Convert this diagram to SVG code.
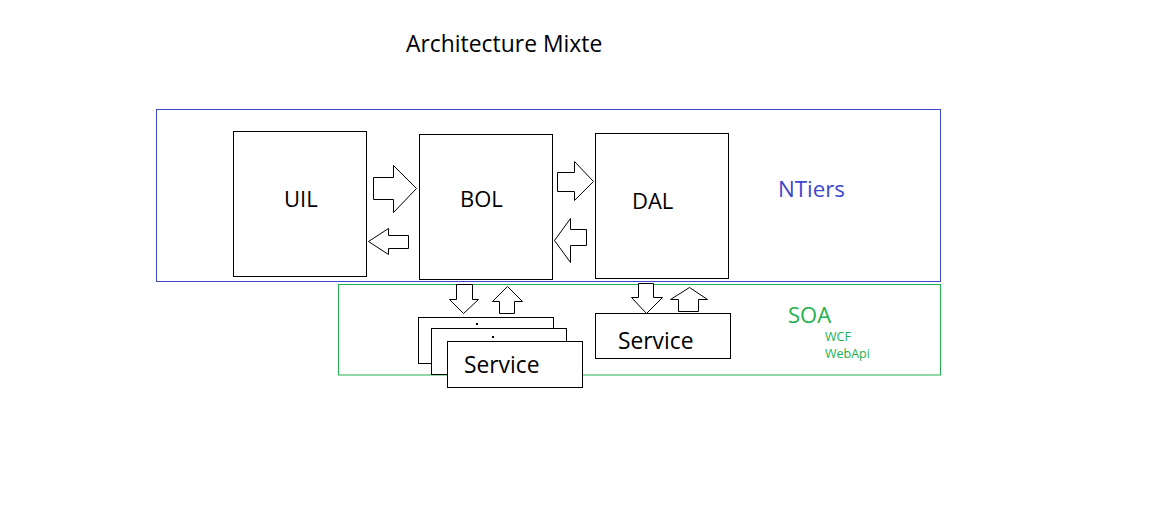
<svg xmlns="http://www.w3.org/2000/svg" width="1164" height="508" viewBox="0 0 1164 508">
<style>
text{font-family:"Open Sans","Noto Sans","Liberation Sans",sans-serif;}
.box{fill:#fff;stroke:#000;stroke-width:1;}
.arrow{fill:#fff;stroke:#000;stroke-width:1;stroke-linejoin:miter;}
.lbl{font-size:22px;fill:#000;}
.svc{font-size:22.8px;fill:#000;}
.blue{fill:#3f48cc;}
.green{fill:#22b14c;}
</style>
<rect width="1164" height="508" fill="#fff"/>
<text x="406" y="52" font-size="22.9" fill="#000">Architecture Mixte</text>
<g id="ntiers">
<rect x="156.5" y="109.5" width="784" height="172" fill="none" stroke="#3f48cc"/>
<text class="blue" x="778" y="197" font-size="22.3">NTiers</text>
</g>
<g id="soa">
<rect x="338.5" y="284.5" width="602" height="90.5" fill="none" stroke="#22b14c"/>
<text class="green" x="788" y="323" font-size="22">SOA</text>
<text class="green" x="825" y="341" font-size="12.5">WCF</text>
<text class="green" x="825" y="358" font-size="12.5">WebApi</text>
</g>
<g id="uil">
<rect class="box" x="233.5" y="131.5" width="133" height="145"/>
<text class="lbl" x="284" y="207">UIL</text>
</g>
<g id="bol">
<rect class="box" x="419.5" y="134.5" width="133" height="145"/>
<text class="lbl" x="460" y="207">BOL</text>
</g>
<g id="dal">
<rect class="box" x="595.5" y="133.5" width="133" height="145"/>
<text class="lbl" x="632" y="209">DAL</text>
</g>
<g id="service-stack">
<rect class="box" x="418.5" y="317.5" width="135" height="46"/>
<rect x="476" y="323" width="2" height="2" fill="#000"/>
<rect class="box" x="431.5" y="328.5" width="135" height="46"/>
<rect x="492" y="336" width="2" height="2" fill="#000"/>
<rect class="box" x="447.5" y="341.5" width="135" height="46"/>
<text class="svc" x="464" y="373">Service</text>
</g>
<g id="service-dal">
<rect class="box" x="595.5" y="313.5" width="135" height="45"/>
<text class="svc" x="618" y="349">Service</text>
</g>
<g id="connectors">
<polygon class="arrow" points="373.5,177.5 393.5,177.5 393.5,165.5 416.5,188.5 393.5,212.5 393.5,199.5 373.5,199.5"/>
<polygon class="arrow" points="408.5,235.5 388.5,235.5 388.5,228.5 368.5,241.5 388.5,254.5 388.5,248.5 408.5,248.5"/>
<polygon class="arrow" points="557.5,172.5 574.5,172.5 574.5,161.5 593.5,181.5 574.5,200.5 574.5,191.5 557.5,191.5"/>
<polygon class="arrow" points="586.5,229.5 570.5,229.5 570.5,218.5 554.5,240.5 570.5,262.5 570.5,245.5 586.5,245.5"/>
<polygon class="arrow" points="456.5,284.5 472.5,284.5 472.5,299.5 478.5,299.5 463.5,313.5 449.5,299.5 456.5,299.5"/>
<polygon class="arrow" points="499.5,313.5 499.5,301.5 492.5,301.5 507.5,286.5 522.5,301.5 514.5,301.5 514.5,313.5"/>
<polygon class="arrow" points="638.5,283.5 653.5,283.5 653.5,297.5 662.5,297.5 646.5,313.5 631.5,297.5 638.5,297.5"/>
<polygon class="arrow" points="678.5,311.5 678.5,299.5 670.5,299.5 689.5,287.5 707.5,299.5 698.5,299.5 698.5,311.5"/>
</g>
</svg>
